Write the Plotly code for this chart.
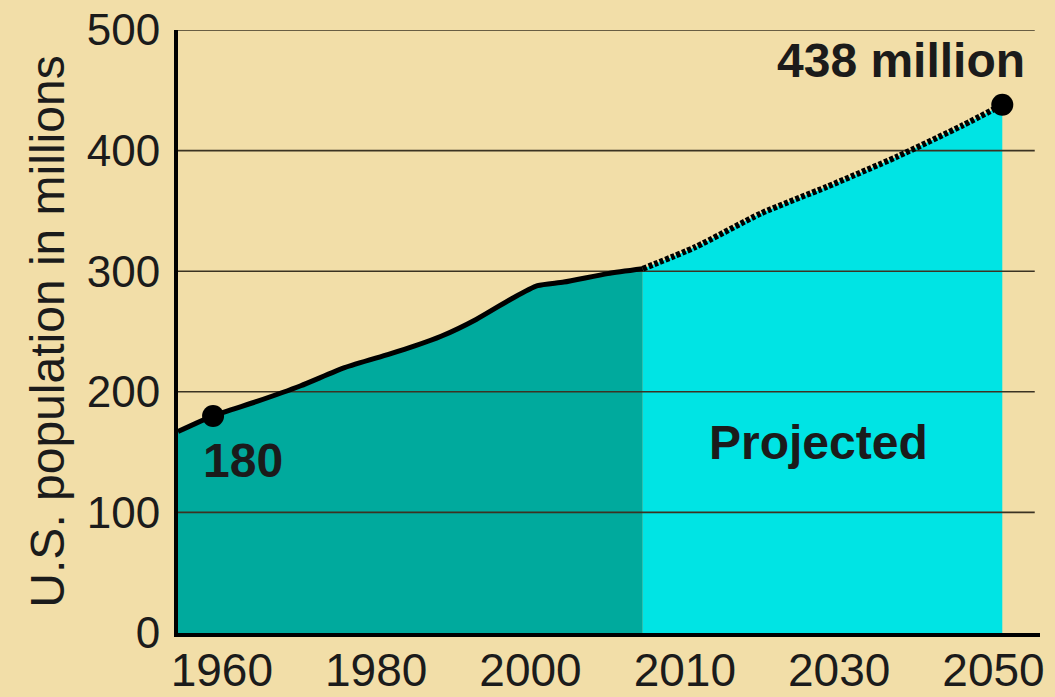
import numpy as np
import plotly.graph_objects as go

# U.S. population (millions): recorded and projected
hist_years = [1956, 1960, 1965, 1970, 1975, 1980, 1983, 1986, 1990, 1994, 1997, 2000, 2005, 2009]
hist_pop = [167, 180, 192, 205, 220, 231, 238, 246, 260, 277, 288, 291, 298, 302]

proj_years = [2009, 2015, 2022.5, 2030, 2038, 2045.5, 2050]
proj_pop = [302, 320, 348, 370, 395, 421, 438]

start_year, start_pop = 1960, 180
end_year, end_pop = 2050, 438

y_ticks = [0, 100, 200, 300, 400, 500]
x_tick_labels = ["1960", "1980", "2000", "2010", "2030", "2050"]

BG = "#F2DEA8"
TEAL = "#00AA9D"
CYAN = "#00E4E4"
INK = "#1b1b1b"
FONT = "Liberation Sans, Arial, sans-serif"

x_min, x_max = 1956, 2054.3

fig = go.Figure()

# filled areas
fig.add_trace(go.Scatter(x=hist_years, y=hist_pop, mode="lines", line=dict(width=0, shape="spline", smoothing=0.6),
                         fill="tozeroy", fillcolor=TEAL, hoverinfo="skip"))
fig.add_trace(go.Scatter(x=proj_years, y=proj_pop, mode="lines", line=dict(width=0, shape="spline", smoothing=0.6),
                         fill="tozeroy", fillcolor=CYAN, hoverinfo="skip"))

# horizontal rules drawn over the fills
for v in y_ticks[1:]:
    fig.add_trace(go.Scatter(x=[x_min, x_max - 0.6], y=[v, v], mode="lines",
                             line=dict(color="#3b3322", width=1.6), hoverinfo="skip"))

# population curves
fig.add_trace(go.Scatter(x=hist_years, y=hist_pop, mode="lines",
                         line=dict(color="#000000", width=5, shape="spline", smoothing=0.6)))
fig.add_trace(go.Scatter(x=proj_years, y=proj_pop, mode="lines",
                         line=dict(color="#000000", width=6, dash="4px,2px", shape="spline", smoothing=0.6)))

# highlighted end points
fig.add_trace(go.Scatter(x=[start_year, end_year], y=[start_pop, end_pop], mode="markers",
                         marker=dict(color="#000000", size=22), cliponaxis=False))

fig.add_annotation(x=start_year, y=start_pop, text=f"<b>{start_pop}</b>", showarrow=False,
                   xanchor="left", yanchor="top", xshift=-12, yshift=-16,
                   font=dict(size=48, color=INK, family=FONT))
fig.add_annotation(x=end_year, y=end_pop, text=f"<b>{end_pop} million</b>", showarrow=False,
                   xanchor="center", yanchor="bottom", xshift=-101, yshift=16,
                   font=dict(size=48, color=INK, family=FONT))
fig.add_annotation(x=(proj_years[0] + end_year) / 2 - 0.5, y=158, text="<b>Projected</b>", showarrow=False,
                   xanchor="center", yanchor="middle",
                   font=dict(size=48, color=INK, family=FONT))

fig.update_layout(
    width=1055, height=697,
    margin=dict(l=178, r=15, t=30, b=64),
    paper_bgcolor=BG, plot_bgcolor=BG,
    showlegend=False,
    font=dict(family=FONT, color=INK, size=46),
    xaxis=dict(range=[x_min, x_max], showgrid=False, zeroline=False, automargin=False,
               showline=True, linecolor="#000000", linewidth=4,
               tickmode="array", tickvals=np.linspace(1961, 2049, len(x_tick_labels)),
               ticktext=x_tick_labels, ticks="", ticklabelstandoff=-6,
               tickfont=dict(size=46, color=INK)),
    yaxis=dict(range=[0, 500], showgrid=False, zeroline=False, automargin=False,
               showline=True, linecolor="#000000", linewidth=4,
               tickmode="array", tickvals=y_ticks, ticks="", ticklabelstandoff=5,
               tickfont=dict(size=44, color=INK),
               title=dict(text="U.S. population in millions", font=dict(size=48, color=INK), standoff=8)),
)

fig.write_html("out.html")
